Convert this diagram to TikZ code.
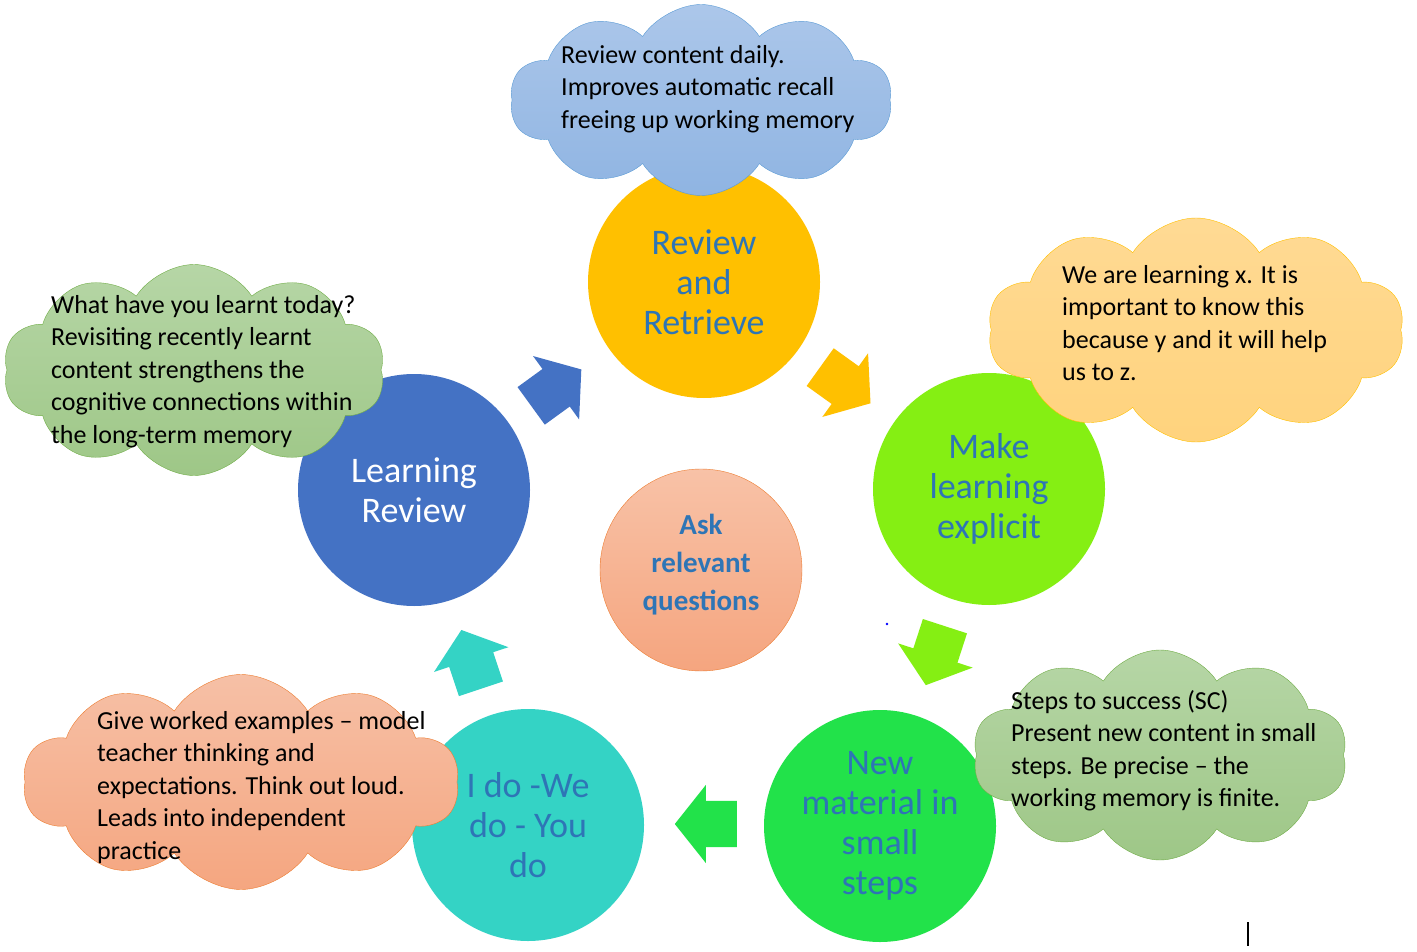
\documentclass[tikz,border=0pt]{standalone}
\usepackage{fontspec}
\setmainfont{Carlito}
\usetikzlibrary{shapes.symbols,shapes.arrows,positioning}
\definecolor{txt_b}{HTML}{2E75B6}
\definecolor{c_yel}{HTML}{FFC000}
\definecolor{c_lime}{HTML}{85EF13}
\definecolor{c_grn}{HTML}{22E24A}
\definecolor{c_teal}{HTML}{34D3C5}
\definecolor{c_blue}{HTML}{4472C4}
\definecolor{c_orng}{HTML}{ED7D31}
\definecolor{c_sky}{HTML}{5B9BD5}
\definecolor{c_moss}{HTML}{70AD47}
\tikzset{
stage/.style = {circle, minimum size=232pt, inner sep=0pt, align=center, text=txt_b,
font=\fontsize{36}{40}\selectfont},
puff/.style = {cloud, cloud puffs=10, cloud puff arc=115, cloud ignores aspect, inner sep=0pt},% nuage
puff_b/.style = {puff, draw=c_sky, top color={rgb,255:red,172;green,199;blue,234}, bottom color={rgb,255:red,143;green,180;blue,226}},
puff_g/.style = {puff, draw=c_moss, top color={rgb,255:red,182;green,214;blue,166}, bottom color={rgb,255:red,158;green,199;blue,135}},
puff_y/.style = {puff, draw=c_yel, top color={rgb,255:red,255;green,218;blue,148}, bottom color={rgb,255:red,255;green,211;blue,125}},
puff_o/.style = {puff, draw=c_orng, top color={rgb,255:red,246;green,192;blue,166}, bottom color={rgb,255:red,245;green,166;blue,128}},
note/.style = {anchor=north west, align=left, inner sep=0pt, font=\fontsize{26}{32.5}\selectfont},
flow/.style = {single arrow, single arrow head extend=16pt, single arrow tip angle=103,
single arrow head indent=0pt, minimum height=62pt, inner xsep=0pt, inner ysep=23pt, anchor=tail}
}
\begin{document}
\begin{tikzpicture}[x=1pt, y=-1pt]
  \useasboundingbox [fill=white] (0,0) rectangle (1417,952);
  % etapes
  \node [stage, fill=c_yel] (review) at (704,282) {Review\\and\\Retrieve};
  \node [stage, fill=c_lime] (explicit) at (989,489) {Make\\learning\\explicit};
  \node [stage, fill=c_grn] (newmat) at (880,826) {New\\material in\\small\\steps};
  \node [stage, fill=c_teal] (ido) at (528,825) {I do -We\\do - You\\do};
  \node [stage, fill=c_blue, text=white] (recap) at (414,490) {Learning\\Review};
  \node [circle, minimum size=202pt, inner sep=0pt, draw=c_orng, top color={rgb,255:red,248;green,194;blue,167},
    bottom color={rgb,255:red,245;green,165;blue,127}, align=center, text=txt_b,
    font=\bfseries\fontsize{29}{38}\selectfont] (ask) at (701,570) {Ask\\relevant\\questions\\[-22pt]};
  % fleches
  \node [flow, fill=c_yel, rotate=-35.7] (f_ye) at (820,367) {};
  \node [flow, fill=c_lime, rotate=-108] (f_li) at (945,626) {};
  \node [flow, fill=c_grn, rotate=180] (f_gr) at (737,824) {};
  \node [flow, fill=c_teal, rotate=108.4] (f_te) at (481,689) {};
  \node [flow, fill=c_blue, rotate=36] (f_bl) at (531,406) {};
  % nuages
  \node [puff_b, minimum width=382pt, minimum height=191pt] (cl_review) at (701,100) {};
  \node [puff_g, minimum width=382pt, minimum height=211pt] (cl_recap) at (194,370) {};
  \node [puff_y, minimum width=417pt, minimum height=224pt] (cl_why) at (1196,330) {};
  \node [puff_g, minimum width=375pt, minimum height=210pt] (cl_steps) at (1160,755) {};
  \node [puff_o, minimum width=436pt, minimum height=215pt] (cl_model) at (241,782) {};
  \node [note] (t_review) at (561,45) {Review content daily.\\Improves automatic recall\\freeing up working memory};
  \node [note] (t_recap) at (51,295) {What have you learnt today?\\Revisiting recently learnt\\content strengthens the\\cognitive connections within\\the long-term memory};
  \node [note] (t_why) at (1062,265) {We are learning x. It is\\important to know this\\because y and it will help\\us to z.};
  \node [note] (t_steps) at (1011,690) {Steps to success (SC)\\Present new content in small\\steps. Be precise -- the\\working memory is finite.};
  \node [note] (t_model) at (97,711) {Give worked examples -- model\\teacher thinking and\\expectations. Think out loud.\\Leads into independent\\practice};
  % restes
  \fill [blue] (887,624) circle (1.3);
  \draw [line width=1.5pt] (1248,922) -- (1248,946);
\end{tikzpicture}
\end{document}
